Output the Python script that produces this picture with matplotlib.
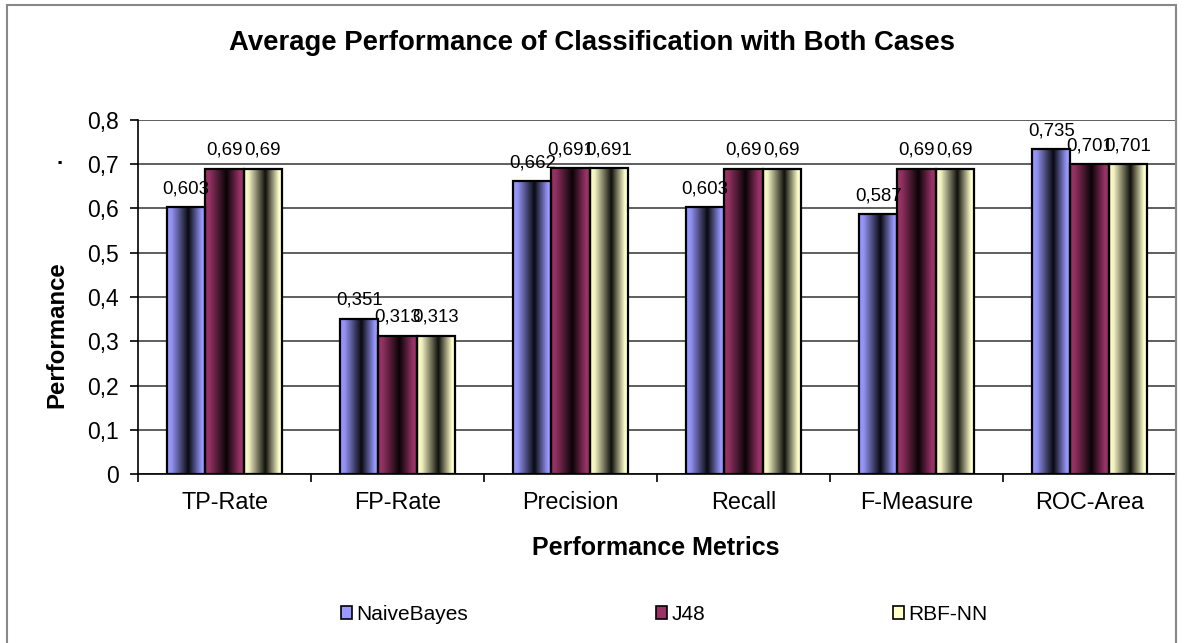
import numpy as np
import matplotlib
matplotlib.use("Agg")
import matplotlib.pyplot as plt
from matplotlib.patches import Rectangle, Patch

plt.rcParams['font.family'] = ['Liberation Sans', 'DejaVu Sans']

metrics = ['TP-Rate', 'FP-Rate', 'Precision', 'Recall', 'F-Measure', 'ROC-Area']
naive_bayes = [0.603, 0.351, 0.662, 0.603, 0.587, 0.735]
j48 = [0.69, 0.313, 0.691, 0.69, 0.69, 0.701]
rbf_nn = [0.69, 0.313, 0.691, 0.69, 0.69, 0.701]
series_names = ['NaiveBayes', 'J48', 'RBF-NN']
series_colors = ['#9999FF', '#993366', '#FFFFCC']


def shaded_strip(color, n=200):
    # light -> almost black -> light across the bar, like a cylinder
    t = np.linspace(0, 1, n)
    f = np.interp(t, [0, 0.12, 0.55, 0.9, 1], [1.0, 0.95, 0.06, 1.0, 1.0])
    rgb = np.array(matplotlib.colors.to_rgb(color))
    return (f[:, None] * rgb[None, :])[None, :, :]


fig = plt.figure(figsize=(11.84, 6.43), dpi=100)
ax = fig.add_axes([0.1166, 0.2628, 0.8766, 0.5506])

x = np.arange(len(metrics))
w = 0.2214
data = [naive_bayes, j48, rbf_nn]
for i, (vals, name, col) in enumerate(zip(data, series_names, series_colors)):
    bars = ax.bar(x + (i - 1) * w, vals, w, facecolor='none', edgecolor='black',
                  linewidth=1.6, zorder=3, label=name)
    strip = shaded_strip(col)
    for b in bars:
        x0, y0 = b.get_x(), b.get_y()
        im = ax.imshow(strip, extent=[x0, x0 + b.get_width(), y0, y0 + b.get_height()],
                       aspect='auto', zorder=2.5, interpolation='bilinear')
        im.set_clip_path(b)
    for b, v in zip(bars, vals):
        ax.annotate(f'{v:g}'.replace('.', ','), (b.get_x() + b.get_width() / 2, v),
                    xytext=(0, 7), textcoords='offset points', ha='center', va='bottom',
                    fontsize=13.4, zorder=5)

ax.set_xlim(-0.5, len(metrics) - 0.5)
ax.set_ylim(0, 0.8)
ax.set_yticks(np.arange(0, 0.81, 0.1))
ax.set_yticklabels(['0'] + [f'{v:.1f}'.replace('.', ',') for v in np.arange(0.1, 0.81, 0.1)],
                   fontsize=16.5)
ax.set_xticks(np.arange(-0.5, len(metrics), 1))
ax.set_xticklabels([])
ax.set_xticks(x, minor=True)
ax.set_xticklabels(metrics, minor=True, fontsize=16.8)
ax.tick_params(axis='x', which='major', length=6, width=1.2, direction='out')
ax.tick_params(axis='x', which='minor', length=0, pad=12)
ax.tick_params(axis='y', length=6, width=1.2, direction='out', pad=8)
ax.yaxis.grid(True, color='#333333', linewidth=1.1, zorder=0)
ax.set_axisbelow(True)
ax.spines['top'].set_visible(False)
ax.spines['right'].set_color('#888888')
ax.spines['right'].set_linewidth(1.5)
ax.spines['left'].set_linewidth(1.2)
ax.spines['bottom'].set_linewidth(1.2)

fig.text(0.5, 0.933, 'Average Performance of Classification with Both Cases',
         ha='center', va='center', fontsize=19.8, fontweight='bold')
fig.text(0.0481, 0.479, 'Performance', rotation=90, ha='center', va='center',
         fontsize=17.3, fontweight='bold')
fig.text(0.0507, 0.754, '.', ha='center', va='center', fontsize=16, fontweight='bold')
fig.text(0.554, 0.147, 'Performance Metrics', ha='center', va='center',
         fontsize=18, fontweight='bold')

handles = [Patch(facecolor=c, edgecolor='black', linewidth=1.2) for c in series_colors]
fig.legend(handles, series_names, loc='center', bbox_to_anchor=(0.561, 0.045), ncol=3,
           frameon=False, fontsize=15, handlelength=0.55, handleheight=0.6,
           handletextpad=0.2, columnspacing=9.0)

fig.add_artist(Rectangle((7 / 1184, -0.01), (1176 - 7) / 1184, 1 - 5 / 643 + 0.01,
                         transform=fig.transFigure, fill=False, edgecolor='#888888',
                         linewidth=1.5))

fig.savefig('out.png', dpi=100)
